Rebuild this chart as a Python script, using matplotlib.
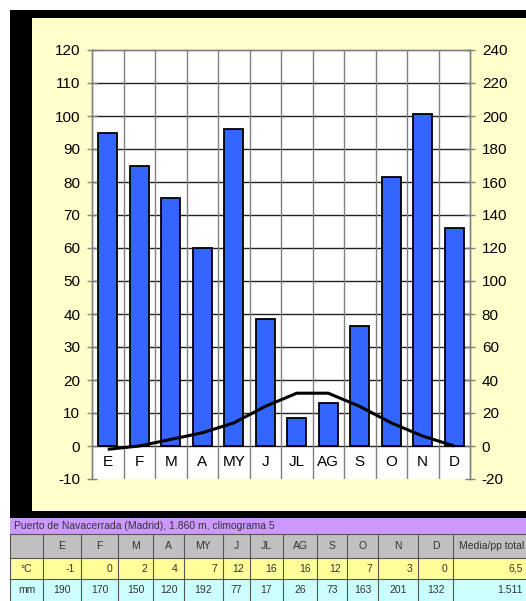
import matplotlib
matplotlib.use("Agg")
import matplotlib.pyplot as plt
from matplotlib.patches import Rectangle

plt.rcParams["axes.unicode_minus"] = False

# ---- data ----
months = ["E", "F", "M", "A", "MY", "J", "JL", "AG", "S", "O", "N", "D"]
temp_c = [-1, 0, 2, 4, 7, 12, 16, 16, 12, 7, 3, 0]
precip_mm = [190, 170, 150, 120, 192, 77, 17, 26, 73, 163, 201, 132]
temp_ticks = list(range(-10, 121, 10))
precip_ticks = list(range(-20, 241, 20))
title_text = "Puerto de Navacerrada (Madrid), 1.860 m, climograma 5"
temp_row_label = "°C"
precip_row_label = "mm"
summary_header = "Media/pp total"
temp_summary = "6,5"
precip_summary = "1.511"

W, H = 526, 601
fig = plt.figure(figsize=(W / 100, H / 100), dpi=100)
fig.patch.set_facecolor("white")
FONT = "Liberation Sans"

# ---- background + table (pixel coordinates) ----
bg = fig.add_axes([0, 0, 1, 1])
bg.set_xlim(0, W)
bg.set_ylim(H, 0)
bg.axis("off")
bg.set_zorder(-10)
bg.add_patch(Rectangle((10, 10), W - 10, 508, facecolor="black", edgecolor="none"))
bg.add_patch(Rectangle((32, 18), W - 32, 493, facecolor="#FFFFCC", edgecolor="none"))

# table
col_edges = [10, 43, 81, 118, 153, 184, 223, 250, 283, 317, 347, 378, 418, 453, 535]
row_title = (518, 534)
row_head = (534, 558)
row_temp = (558, 579)
row_prec = (579, 601)
bg.add_patch(Rectangle((10, row_title[0]), W - 10, row_title[1] - row_title[0],
                       facecolor="#CC99FF", edgecolor="none"))
for (y0, y1), col in [(row_head, "#C0C0C0"), (row_temp, "#FFFF99"), (row_prec, "#CCFFFF")]:
    bg.add_patch(Rectangle((10, y0), W - 10, y1 - y0, facecolor=col, edgecolor="none"))
for y in [row_head[0], row_temp[0], row_prec[0]]:
    bg.plot([10, W], [y, y], color="#555555", lw=0.8)
for xe in col_edges[:-1]:
    bg.plot([xe, xe], [row_head[0], H], color="#555555", lw=0.8)

tkw = dict(fontsize=7.5, family=FONT, color="#333333", va="center")
bg.text(14, (row_title[0] + row_title[1]) / 2, title_text, ha="left", **tkw)
hy = (row_head[0] + row_head[1]) / 2
ty = (row_temp[0] + row_temp[1]) / 2
py = (row_prec[0] + row_prec[1]) / 2
bg.text((col_edges[0] + col_edges[1]) / 2, ty, temp_row_label, ha="center", **tkw)
bg.text((col_edges[0] + col_edges[1]) / 2, py, precip_row_label, ha="center", **tkw)
for i, m in enumerate(months):
    cx = (col_edges[i + 1] + col_edges[i + 2]) / 2
    bg.text(cx, hy, m, ha="center", **tkw)
    bg.text(col_edges[i + 2] - 6, ty, str(temp_c[i]), ha="right", **tkw)
    bg.text(cx, py, str(precip_mm[i]), ha="center", **tkw)
bg.text(492, hy, summary_header, ha="center", **tkw)
bg.text(523, ty, temp_summary, ha="right", **tkw)
bg.text(523, py, precip_summary, ha="right", **tkw)

# ---- chart ----
left_px, right_px, top_px, bot_px = 92, 470, 50, 479
ax = fig.add_axes([left_px / W, 1 - bot_px / H, (right_px - left_px) / W, (bot_px - top_px) / H])
ax2 = ax.twinx()
x = list(range(len(months)))

# ax2 (precip) is the base layer with grid and bars; ax (temp) draws the line on top
ax.set_zorder(ax2.get_zorder() + 1)
ax.patch.set_visible(False)
ax2.patch.set_visible(True)
ax2.patch.set_facecolor("white")

ax.set_xlim(-0.5, len(months) - 0.5)
ax.set_ylim(-10, 120)
ax2.set_ylim(-20, 240)

for v in precip_ticks:
    if 0 <= v < 240:
        ax2.axhline(v, color="#222222", lw=1.0, zorder=1)
for b in range(1, len(months)):
    ax2.axvline(b - 0.5, color="#808080", lw=1.0, zorder=1)

ax2.bar(x, precip_mm, width=0.6, color="#3366FF", edgecolor="black", linewidth=1.3, zorder=3)
ax.plot(x, temp_c, color="black", lw=2.2, zorder=5, solid_capstyle="butt")

for i, m in enumerate(months):
    ax.text(i, -5, m, ha="center", va="center", fontsize=11, family=FONT, color="black")

ax.set_xticks([])
ax.set_yticks(temp_ticks)
ax2.set_yticks(precip_ticks)
for a in (ax, ax2):
    for s in a.spines.values():
        s.set_color("#808080")
        s.set_linewidth(1.0)
    a.spines["bottom"].set_visible(False)
    a.tick_params(axis="y", direction="inout", length=7, width=1.0, color="#808080",
                  labelsize=11, pad=5)
    for lab in a.get_yticklabels():
        lab.set_family(FONT)

fig.savefig("out.png", dpi=100, facecolor="white")
